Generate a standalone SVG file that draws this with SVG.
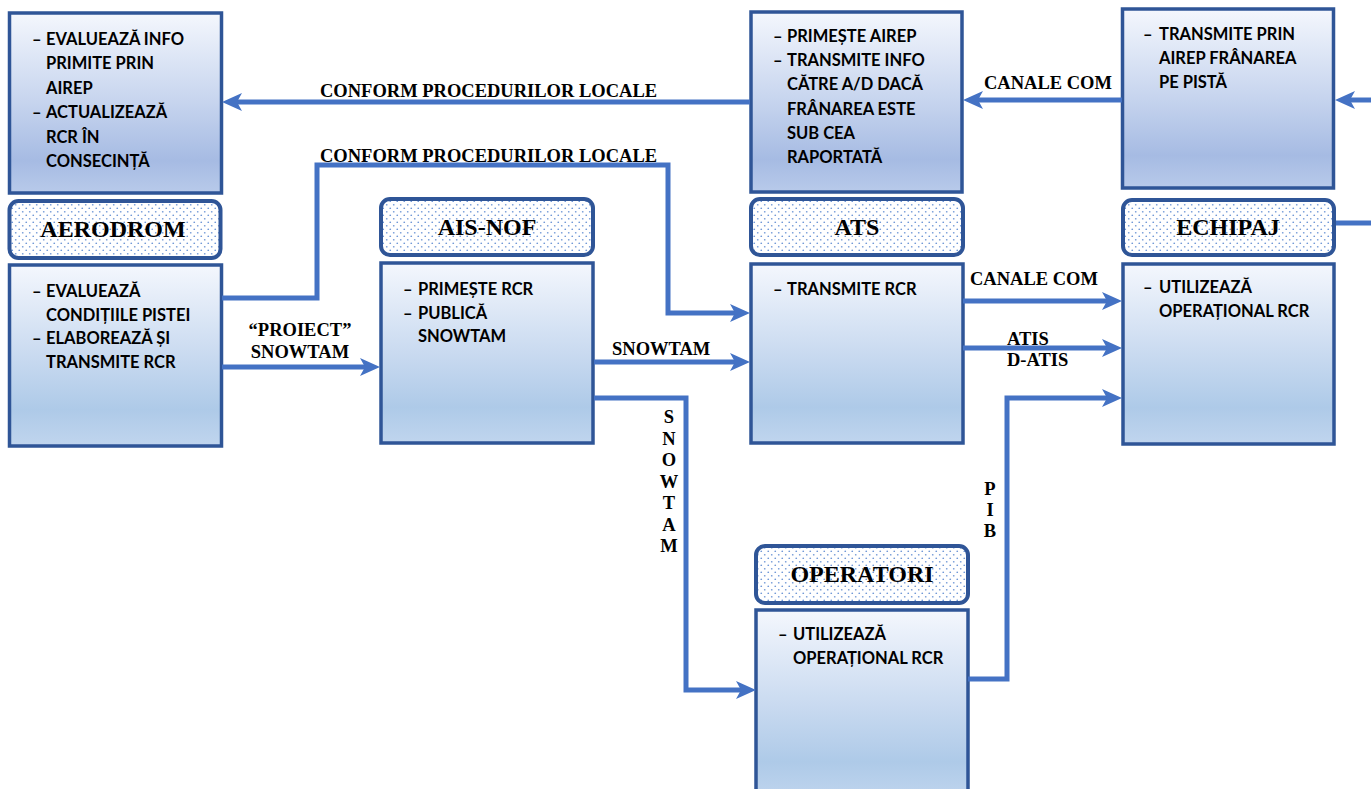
<svg xmlns="http://www.w3.org/2000/svg" width="1371" height="789" viewBox="0 0 1371 789">
<defs>
<linearGradient id="gTop" x1="0" y1="0" x2="0" y2="1">
<stop offset="0" stop-color="#F4F7FD"/>
<stop offset="0.5" stop-color="#C6D4EE"/>
<stop offset="0.82" stop-color="#A6BBE3"/>
<stop offset="1" stop-color="#B8CAEA"/>
</linearGradient>
<linearGradient id="gBot" x1="0" y1="0" x2="0" y2="1">
<stop offset="0" stop-color="#F4F7FD"/>
<stop offset="0.5" stop-color="#C9DAF0"/>
<stop offset="0.8" stop-color="#AECAE8"/>
<stop offset="1" stop-color="#C0D5EE"/>
</linearGradient>
<pattern id="dots" width="7" height="7" patternUnits="userSpaceOnUse">
<rect width="7" height="7" fill="#FFFFFF"/>
<circle cx="1.75" cy="1.75" r="0.85" fill="#6F97D6"/>
<circle cx="5.25" cy="5.25" r="0.85" fill="#6F97D6"/>
</pattern>
<marker id="arr" viewBox="0 0 20 20" refX="6" refY="10" markerWidth="20" markerHeight="20" markerUnits="userSpaceOnUse" orient="auto">
<path d="M0,1 L20,10 L0,19 L5,10 z" fill="#4472C4"/>
</marker>
</defs>
<style>
.box{stroke:#2F5597;stroke-width:3.5}
.top{fill:url(#gTop)}
.bot{fill:url(#gBot)}
.lab{fill:url(#dots);stroke:#2F5597;stroke-width:4}
.t{font-family:Lato,"Open Sans",sans-serif;font-weight:bold;font-size:16.5px;fill:#000}
.ttl{font-family:"Liberation Serif","Times New Roman",serif;font-weight:bold;font-size:24px;text-anchor:middle;fill:#000}
.cl{font-family:"Liberation Serif","Times New Roman",serif;font-weight:bold;font-size:18.5px;fill:#000}
.mid{text-anchor:middle}
.c{fill:none;stroke:#4472C4;stroke-width:5}
</style>

<g id="aerodrom-info">
<rect class="box top" x="9.5" y="13" width="212" height="180"/>
<text class="t" x="32" y="45">–</text><text class="t" x="46" y="45">EVALUEAZĂ INFO</text>
<text class="t" x="46" y="69.4">PRIMITE PRIN</text>
<text class="t" x="46" y="93.8">AIREP</text>
<text class="t" x="32" y="118.2">–</text><text class="t" x="46" y="118.2">ACTUALIZEAZĂ</text>
<text class="t" x="46" y="142.6">RCR ÎN</text>
<text class="t" x="46" y="167">CONSECINȚĂ</text>
</g>
<g id="aerodrom-label">
<rect class="lab" x="9.5" y="201" width="211" height="57" rx="9"/>
<text class="ttl" x="113" y="237">AERODROM</text>
</g>
<g id="aerodrom">
<rect class="box bot" x="9.5" y="265" width="212" height="181"/>
<text class="t" x="32" y="297">–</text><text class="t" x="46" y="297">EVALUEAZĂ</text>
<text class="t" x="46" y="320.5">CONDIȚIILE PISTEI</text>
<text class="t" x="32" y="344">–</text><text class="t" x="46" y="344">ELABOREAZĂ ȘI</text>
<text class="t" x="46" y="367.5">TRANSMITE RCR</text>
</g>

<g id="aisnof-label">
<rect class="lab" x="381" y="199" width="212" height="56" rx="9"/>
<text class="ttl" x="487" y="235">AIS-NOF</text>
</g>
<g id="aisnof">
<rect class="box bot" x="381" y="263" width="212" height="180"/>
<text class="t" x="403" y="295">–</text><text class="t" x="418" y="295">PRIMEȘTE RCR</text>
<text class="t" x="403" y="318.5">–</text><text class="t" x="418" y="318.5">PUBLICĂ</text>
<text class="t" x="418" y="342">SNOWTAM</text>
</g>

<g id="ats-info">
<rect class="box top" x="751" y="12" width="211" height="180"/>
<text class="t" x="773" y="42">–</text><text class="t" x="787" y="42">PRIMEȘTE AIREP</text>
<text class="t" x="773" y="66.2">–</text><text class="t" x="787" y="66.2">TRANSMITE INFO</text>
<text class="t" x="787" y="90.4">CĂTRE A/D DACĂ</text>
<text class="t" x="787" y="114.6">FRÂNAREA ESTE</text>
<text class="t" x="787" y="138.8">SUB CEA</text>
<text class="t" x="787" y="163">RAPORTATĂ</text>
</g>
<g id="ats-label">
<rect class="lab" x="751" y="199" width="212" height="56" rx="9"/>
<text class="ttl" x="857" y="235">ATS</text>
</g>
<g id="ats">
<rect class="box bot" x="751" y="264" width="212" height="179"/>
<text class="t" x="773" y="295">–</text><text class="t" x="787" y="295">TRANSMITE RCR</text>
</g>

<g id="echipaj-info">
<rect class="box top" x="1122.5" y="9" width="211" height="179"/>
<text class="t" x="1143" y="40">–</text><text class="t" x="1159" y="40">TRANSMITE PRIN</text>
<text class="t" x="1159" y="64">AIREP FRÂNAREA</text>
<text class="t" x="1159" y="88">PE PISTĂ</text>
</g>
<g id="echipaj-label">
<rect class="lab" x="1123" y="200" width="211" height="55" rx="9"/>
<text class="ttl" x="1228" y="235">ECHIPAJ</text>
</g>
<g id="echipaj">
<rect class="box bot" x="1123" y="264" width="211" height="180"/>
<text class="t" x="1143" y="293">–</text><text class="t" x="1159" y="293">UTILIZEAZĂ</text>
<text class="t" x="1159" y="317">OPERAȚIONAL RCR</text>
</g>

<g id="operatori-label">
<rect class="lab" x="756" y="546" width="212" height="57" rx="9"/>
<text class="ttl" x="862" y="582">OPERATORI</text>
</g>
<g id="operatori">
<rect class="box bot" x="756" y="610" width="212" height="190"/>
<text class="t" x="778" y="640">–</text><text class="t" x="793" y="640">UTILIZEAZĂ</text>
<text class="t" x="793" y="664">OPERAȚIONAL RCR</text>
</g>

<g id="connectors">
<path class="c" d="M750,102 H236" marker-end="url(#arr)"/>
<path class="c" d="M222,298 H317 V165 H668 V313 H736" marker-end="url(#arr)"/>
<path class="c" d="M222,367 H366" marker-end="url(#arr)"/>
<path class="c" d="M594,362 H736" marker-end="url(#arr)"/>
<path class="c" d="M594,398 H686 V690 H742" marker-end="url(#arr)"/>
<path class="c" d="M963,301 H1108" marker-end="url(#arr)"/>
<path class="c" d="M963,348 H1108" marker-end="url(#arr)"/>
<path class="c" d="M968,679 H1007 V398 H1108" marker-end="url(#arr)"/>
<path class="c" d="M1122,100 H977" marker-end="url(#arr)"/>
<path class="c" d="M1371,100 H1349" marker-end="url(#arr)"/>
<path class="c" d="M1336,223 H1371"/>
</g>

<g id="connector-labels">
<text class="cl" x="320" y="97">CONFORM PROCEDURILOR LOCALE</text>
<text class="cl" x="320" y="162">CONFORM PROCEDURILOR LOCALE</text>
<text class="cl mid" x="300" y="336">“PROIECT”</text>
<text class="cl mid" x="300" y="358">SNOWTAM</text>
<text class="cl" x="612" y="355">SNOWTAM</text>
<text class="cl mid" x="669" y="423">S</text>
<text class="cl mid" x="669" y="444.5">N</text>
<text class="cl mid" x="669" y="466">O</text>
<text class="cl mid" x="669" y="487.5">W</text>
<text class="cl mid" x="669" y="509">T</text>
<text class="cl mid" x="669" y="530.5">A</text>
<text class="cl mid" x="669" y="552">M</text>
<text class="cl" x="970" y="285">CANALE COM</text>
<text class="cl" x="1007" y="345">ATIS</text>
<text class="cl" x="1007" y="366">D-ATIS</text>
<text class="cl mid" x="990" y="495">P</text>
<text class="cl mid" x="990" y="516">I</text>
<text class="cl mid" x="990" y="537">B</text>
<text class="cl" x="984" y="89">CANALE COM</text>
</g>
</svg>
